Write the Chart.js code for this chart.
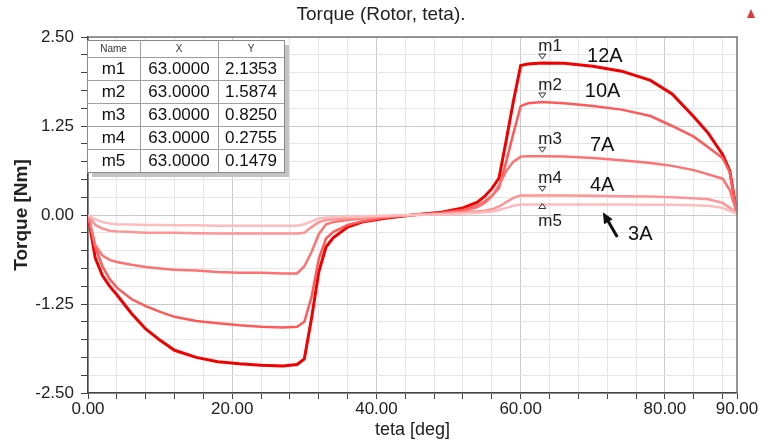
<!DOCTYPE html>
<html><head><meta charset="utf-8">
<script src="https://cdn.jsdelivr.net/npm/chart.js@4.4.1/dist/chart.umd.min.js"></script>
<style>html,body{margin:0;padding:0;background:#fff;}#wrap{width:762px;height:443px;}</style>
</head><body><div id="wrap"><canvas id="c" width="762" height="443"></canvas></div>
<script>
const thetaDeg  = [0,1,2,3,4,6,8,10,12,15,18,21,24,27,29,30,31,32,33,34,36,38,41,45,49,52,54,55,56,57,58,59,60,61,63,66,70,74,78,81,84,86,88,89,90];
const torque12A = [0,-0.60,-0.85,-1.00,-1.12,-1.38,-1.60,-1.76,-1.90,-2.00,-2.06,-2.09,-2.11,-2.12,-2.10,-2.02,-1.45,-0.80,-0.45,-0.32,-0.17,-0.10,-0.05,0,0.04,0.10,0.18,0.26,0.37,0.52,1.05,1.60,2.10,2.12,2.1353,2.13,2.09,2.02,1.89,1.70,1.38,1.15,0.85,0.62,0.02];
const torque10A = [0,-0.45,-0.72,-0.90,-1.02,-1.18,-1.28,-1.36,-1.43,-1.49,-1.52,-1.55,-1.57,-1.58,-1.57,-1.50,-1.15,-0.62,-0.33,-0.24,-0.14,-0.09,-0.04,0,0.03,0.07,0.13,0.19,0.27,0.38,0.75,1.15,1.53,1.57,1.5874,1.57,1.53,1.48,1.39,1.25,1.10,0.95,0.80,0.60,0.02];
const torque7A  = [0,-0.42,-0.57,-0.63,-0.66,-0.70,-0.73,-0.75,-0.77,-0.78,-0.80,-0.81,-0.81,-0.82,-0.82,-0.72,-0.52,-0.27,-0.13,-0.10,-0.07,-0.05,-0.02,0,0.02,0.05,0.11,0.17,0.26,0.42,0.62,0.75,0.82,0.825,0.8250,0.82,0.80,0.77,0.73,0.69,0.63,0.57,0.51,0.35,0.02];
const torque4A  = [0,-0.14,-0.19,-0.22,-0.23,-0.24,-0.25,-0.25,-0.25,-0.255,-0.26,-0.26,-0.26,-0.26,-0.26,-0.25,-0.17,-0.10,-0.07,-0.06,-0.05,-0.04,-0.02,0,0.01,0.03,0.05,0.06,0.08,0.12,0.18,0.24,0.275,0.275,0.2755,0.275,0.27,0.265,0.26,0.25,0.235,0.22,0.17,0.10,0.02];
const torque3A  = [0,-0.06,-0.10,-0.12,-0.13,-0.135,-0.14,-0.14,-0.145,-0.145,-0.15,-0.15,-0.15,-0.15,-0.15,-0.13,-0.09,-0.05,-0.035,-0.03,-0.025,-0.02,-0.01,0,0.01,0.02,0.03,0.04,0.05,0.07,0.10,0.13,0.148,0.148,0.1479,0.148,0.147,0.146,0.145,0.143,0.138,0.13,0.10,0.06,0.02];
const seriesNames = ['12A','10A','7A','4A','3A'];
const markerNames = ['m1','m2','m3','m4','m5'];
const markerX = [63,63,63,63,63];
const markerY = [2.1353,1.5874,0.8250,0.2755,0.1479];
const xLabelTicks = [0,20,40,60,80,90];
const yLabelTicks = [-2.5,-1.25,0,1.25,2.5];
const chartTitle = 'Torque (Rotor, teta).';

const seriesData = [torque12A, torque10A, torque7A, torque4A, torque3A];
const seriesColors = ['#f20000','#ff5a5a','#ff7272','#ff9494','#ffbcbc'];
const seriesWidths = [3,2.5,2.5,2.5,2.5];

const xTickValues = []; for (let v = 0; v <= 88; v += 4) xTickValues.push(v); xTickValues.push(90);
const yTickValues = []; for (let i = -10; i <= 10; i++) yTickValues.push(i * 0.25);
const isMajor = (v, list) => list.some(t => Math.abs(t - v) < 1e-6);

const datasets = seriesData.map((arr, i) => ({
  label: seriesNames[i],
  data: thetaDeg.map((t, k) => ({x: t, y: arr[k]})),
  borderColor: seriesColors[i], backgroundColor: seriesColors[i],
  borderWidth: seriesWidths[i], pointRadius: 0, tension: 0, fill: false,
  order: seriesData.length - i
}));

const FONT = '"Liberation Sans", Arial, sans-serif';

const overlay = {
  id: 'overlay',
  afterDatasetsDraw(chart) {
    const {ctx, chartArea: ca, scales: {x, y}} = chart;
    ctx.save();
    // title
    ctx.fillStyle = '#222'; ctx.font = '19px ' + FONT; ctx.textAlign = 'center'; ctx.textBaseline = 'middle';
    ctx.fillText(chartTitle, 381, 15);
    // frame
    ctx.strokeStyle = '#7a7a7a'; ctx.lineWidth = 1.5;
    ctx.beginPath(); ctx.moveTo(ca.left, ca.top); ctx.lineTo(ca.right, ca.top); ctx.lineTo(ca.right, ca.bottom); ctx.stroke();

    // markers
    ctx.lineWidth = 1; ctx.strokeStyle = '#333'; ctx.fillStyle = '#222';
    ctx.font = '17px ' + FONT; ctx.textBaseline = 'middle'; ctx.textAlign = 'left';
    markerNames.forEach((n, i) => {
      const px = x.getPixelForValue(markerX[i]), py = y.getPixelForValue(markerY[i]);
      ctx.beginPath();
      if (i < markerNames.length - 1) {
        const tip = py - 4;
        ctx.moveTo(px, tip); ctx.lineTo(px - 3.5, tip - 5); ctx.lineTo(px + 3.5, tip - 5); ctx.closePath(); ctx.stroke();
        ctx.fillText(n, px - 4, tip - 13);
      } else {
        const tip = py - 1;
        ctx.moveTo(px, tip); ctx.lineTo(px - 3.5, tip + 5); ctx.lineTo(px + 3.5, tip + 5); ctx.closePath(); ctx.stroke();
        ctx.fillText(n, px - 4, tip + 18);
      }
    });

    // annotations
    ctx.font = '20px ' + FONT; ctx.fillStyle = '#111';
    const ann = [[69.2, 2.23], [68.9, 1.73], [69.6, 0.98], [69.6, 0.42], [74.9, -0.28]];
    ann.forEach((a, i) => ctx.fillText(seriesNames[i], x.getPixelForValue(a[0]), y.getPixelForValue(a[1])));
    // arrow
    const tx = x.getPixelForValue(73.4), ty = y.getPixelForValue(-0.31);
    const hx = x.getPixelForValue(71.4), hy = y.getPixelForValue(0.04);
    const ang = Math.atan2(hy - ty, hx - tx);
    ctx.strokeStyle = '#111'; ctx.lineWidth = 3;
    ctx.beginPath(); ctx.moveTo(tx, ty); ctx.lineTo(hx - 6 * Math.cos(ang), hy - 6 * Math.sin(ang)); ctx.stroke();
    ctx.fillStyle = '#111'; ctx.beginPath();
    ctx.moveTo(hx, hy);
    ctx.lineTo(hx - 11 * Math.cos(ang) + 5 * Math.sin(ang), hy - 11 * Math.sin(ang) - 5 * Math.cos(ang));
    ctx.lineTo(hx - 11 * Math.cos(ang) - 5 * Math.sin(ang), hy - 11 * Math.sin(ang) + 5 * Math.cos(ang));
    ctx.closePath(); ctx.fill();

    // table
    const tl = ca.left - 1, tt = ca.top + 3;
    const cw = [53, 78, 66], hh = 17, rh = 23;
    const tw = cw[0] + cw[1] + cw[2], th = hh + rh * markerNames.length;
    ctx.fillStyle = '#c4c4c4'; ctx.fillRect(tl + 5, tt + 5, tw, th);
    ctx.fillStyle = '#fff'; ctx.fillRect(tl, tt, tw, th);
    ctx.strokeStyle = '#8a8a8a'; ctx.lineWidth = 1;
    ctx.strokeRect(tl + 0.5, tt + 0.5, tw, th);
    ctx.strokeStyle = '#a0a0a0';
    let cx = tl;
    for (let c = 0; c < 2; c++) { cx += cw[c]; ctx.beginPath(); ctx.moveTo(cx + 0.5, tt); ctx.lineTo(cx + 0.5, tt + th); ctx.stroke(); }
    for (let r = 0; r < markerNames.length; r++) { const ry = tt + hh + r * rh; ctx.beginPath(); ctx.moveTo(tl, ry + 0.5); ctx.lineTo(tl + tw, ry + 0.5); ctx.stroke(); }
    ctx.textAlign = 'center'; ctx.fillStyle = '#333'; ctx.font = '10px ' + FONT;
    const hdr = ['Name', 'X', 'Y'];
    let hx0 = tl;
    hdr.forEach((h, c) => { ctx.fillText(h, hx0 + cw[c] / 2, tt + hh / 2 + 1); hx0 += cw[c]; });
    ctx.fillStyle = '#111'; ctx.font = '17px ' + FONT;
    markerNames.forEach((n, r) => {
      const cy = tt + hh + r * rh + rh / 2 + 1;
      const vals = [n, markerX[r].toFixed(4), markerY[r].toFixed(4)];
      let c0 = tl;
      vals.forEach((v, c) => { ctx.fillText(v, c0 + cw[c] / 2, cy); c0 += cw[c]; });
    });

    // corner icon
    ctx.fillStyle = '#d83a3a';
    ctx.beginPath(); ctx.moveTo(751, 9); ctx.lineTo(755, 18); ctx.lineTo(747, 18); ctx.closePath(); ctx.fill();
    ctx.restore();
  }
};

new Chart(document.getElementById('c'), {
  type: 'line',
  data: {datasets},
  options: {
    responsive: false, animation: false, devicePixelRatio: 1,
    layout: {padding: {left: 0, right: 25, top: 37, bottom: 0}},
    plugins: {legend: {display: false}, tooltip: {enabled: false}, title: {display: false}},
    scales: {
      x: {
        type: 'linear', min: 0, max: 90,
        afterBuildTicks: s => { s.ticks = xTickValues.map(v => ({value: v})); },
        afterFit: s => { s.height = 50; },
        ticks: {autoSkip: false, maxRotation: 0, color: '#222', padding: 0, font: {family: FONT, size: 17},
          callback: v => isMajor(v, xLabelTicks) ? v.toFixed(2) : ''},
        grid: {color: c => isMajor(c.tick.value, xLabelTicks) ? '#c9c9c9' : '#e6e6e6', tickColor: '#444', tickLength: 6, lineWidth: 1},
        border: {color: '#444', width: 1.5},
        title: {display: true, text: 'teta [deg]', color: '#222', font: {family: FONT, size: 18}, padding: {top: 0, bottom: 2}}
      },
      y: {
        type: 'linear', min: -2.5, max: 2.5,
        afterBuildTicks: s => { s.ticks = yTickValues.map(v => ({value: v})); },
        afterFit: s => { s.width = 88; },
        ticks: {autoSkip: false, color: '#222', padding: 7, font: {family: FONT, size: 17},
          callback: v => isMajor(v, yLabelTicks) ? v.toFixed(2) : ''},
        grid: {color: c => isMajor(c.tick.value, yLabelTicks) ? '#c9c9c9' : '#e6e6e6', tickColor: '#444', tickLength: 7, lineWidth: 1},
        border: {color: '#444', width: 1.5},
        title: {display: true, text: 'Torque [Nm]', color: '#222', font: {family: FONT, size: 19, weight: 'bold'}, padding: {top: 10, bottom: 0}}
      }
    }
  },
  plugins: [overlay]
});
</script></body></html>
